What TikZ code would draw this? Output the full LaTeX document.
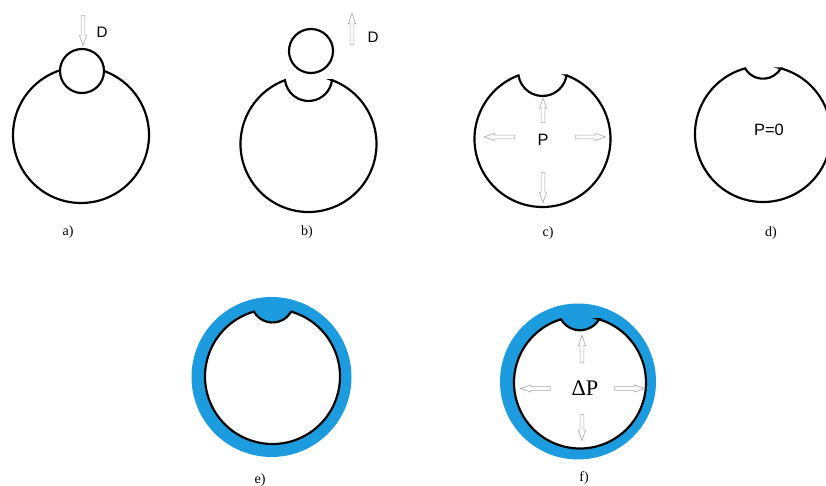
\documentclass[tikz,border=0pt]{standalone}
\usepackage{fontspec}
\setmainfont{Liberation Serif}
\newfontfamily\arialsans{Liberation Sans}
\usetikzlibrary{shapes.arrows}
\definecolor{ringblue}{RGB}{28,155,222}
\tikzset{
  wall/.style={draw=black, line width=1.85pt},
  push/.style={single arrow, draw=gray!65, fill=white, line width=0.55pt, inner sep=1.3pt,
    single arrow head extend=1.5pt, single arrow tip angle=38},
  tag/.style={font=\fontsize{12}{14}\selectfont},
  sym/.style={font=\arialsans\fontsize{14}{16}\selectfont}
}
% notched cell: [style] {cx}{cy}{R}{notch centre above cx,cy}{notch radius}
\newcommand{\notchedcirc}[6][]{%
  \pgfmathsetmacro{\nchY}{(#4*#4-#6*#6+#5*#5)/(2*#5)}%
  \pgfmathsetmacro{\nchX}{sqrt(#4*#4-\nchY*\nchY)}%
  \pgfmathsetmacro{\nchA}{atan2(\nchY,\nchX)}%
  \pgfmathsetmacro{\nchB}{atan2(\nchY-#5,\nchX)}%
  \draw[wall,#1] (#2,#3) ++(\nchA:#4) arc[start angle=\nchA, end angle=-180-\nchA, radius=#4]
    arc[start angle=180-\nchB, end angle=360+\nchB, radius=#6] -- cycle;
}
\begin{document}
\begin{tikzpicture}[x=0.03cm, y=0.03cm]
  \clip (0,0) rectangle (826,-486);

  % a) micropipette touches the cell
  \draw[wall] (81,-135) circle[radius=68];
  \draw[wall, fill=white] (82,-71) circle[radius=22];
  \node[push, minimum height=25.5pt, rotate=-90] (pushA) at (83,-28) {};
  \node[sym, font=\arialsans\fontsize{13}{15}\selectfont] (dA) at (102,-32) {D};
  \node[tag] (labA) at (68,-232) {a)};

  % b) pipette pulled off
  \notchedcirc{308.5}{-144}{68}{66.7}{23.7}
  \draw[wall] (311,-51) circle[radius=22];
  \node[push, minimum height=26.4pt, rotate=90] (pushB) at (352,-31.5) {};
  \node[sym, font=\arialsans\fontsize{13}{15}\selectfont] (dB) at (373,-37) {D};
  \node[tag] (labB) at (307,-232) {b)};

  % c) pressure inside
  \notchedcirc{542.5}{-139}{68}{67.3}{24.3}
  \node[sym] (pC) at (543,-140) {P};
  \node[push, minimum height=21.3pt, rotate=90] (upC) at (543,-113) {};
  \node[push, minimum height=25.5pt, rotate=-90] (downC) at (543,-185) {};
  \node[push, minimum height=26.4pt, rotate=180] (leftC) at (502,-137) {};
  \node[push, minimum height=25.5pt] (rightC) at (588,-137) {};
  \node[tag] (labC) at (548,-233) {c)};

  % d) no pressure
  \notchedcirc{763}{-134}{68}{76}{20.7}
  \node[sym] (pD) at (769,-130) {P=0};
  \node[tag] (labD) at (771,-233) {d)};

  % e) with wall
  \fill[ringblue] (271.5,-377) circle[radius=80];
  \notchedcirc[fill=white]{272.5}{-376.5}{67.5}{75.3}{21.3}
  \node[tag] (labE) at (260,-480) {e)};

  % f) wall and pressure difference
  \fill[ringblue] (578,-381.5) circle[radius=78];
  \notchedcirc[fill=white]{580}{-382.5}{66}{74.1}{21.9}
  \node[font=\fontsize{19}{21}\selectfont] (dpF) at (585,-388) {ΔP};
  \node[push, minimum height=23pt, rotate=90] (upF) at (582,-351.5) {};
  \node[push, minimum height=22pt, rotate=-90] (downF) at (582,-425) {};
  \node[push, minimum height=25.5pt, rotate=180] (leftF) at (538,-388.5) {};
  \node[push, minimum height=25.5pt] (rightF) at (627,-388.5) {};
  \node[tag] (labF) at (584,-478) {f)};
\end{tikzpicture}
\end{document}
